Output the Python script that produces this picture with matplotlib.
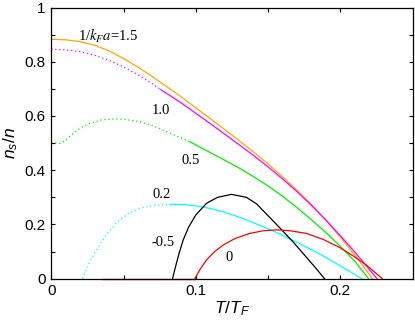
import numpy as np
import matplotlib
matplotlib.use('Agg')
import matplotlib.pyplot as plt
from matplotlib.ticker import MultipleLocator

plt.rcParams['font.family'] = 'Liberation Sans'
plt.rcParams['mathtext.fontset'] = 'custom'
plt.rcParams['mathtext.rm'] = 'Liberation Sans'
plt.rcParams['mathtext.it'] = 'Liberation Sans:italic'

# curves: T/T_F and n_s/n
# 1/kFa = 1.5 (all solid)
t_15 = [0.000, 0.010, 0.020, 0.030, 0.040, 0.050, 0.060, 0.070, 0.080, 0.090, 0.100,
        0.110, 0.120, 0.130, 0.140, 0.150, 0.160, 0.170, 0.180, 0.190, 0.200, 0.210, 0.2221]
n_15 = [0.883, 0.881, 0.874, 0.861, 0.840, 0.812, 0.780, 0.745, 0.708, 0.670, 0.630,
        0.590, 0.550, 0.509, 0.467, 0.423, 0.376, 0.326, 0.273, 0.215, 0.153, 0.087, 0.000]
# 1/kFa = 1.0 (dotted part, then solid)
t_10_dot = [0.000, 0.010, 0.020, 0.030, 0.040, 0.050, 0.060, 0.070, 0.0758]
n_10_dot = [0.846, 0.844, 0.837, 0.824, 0.805, 0.781, 0.752, 0.719, 0.697]
t_10 = [0.0758, 0.090, 0.100, 0.110, 0.120, 0.130, 0.140, 0.150, 0.160, 0.170, 0.180,
        0.190, 0.200, 0.210, 0.2253]
n_10 = [0.697, 0.648, 0.610, 0.572, 0.533, 0.494, 0.454, 0.412, 0.368, 0.321, 0.270,
        0.216, 0.158, 0.098, 0.000]
# 1/kFa = 0.5
t_05_dot = [0.000, 0.006, 0.010, 0.0153, 0.020, 0.0268, 0.035, 0.0429, 0.050, 0.0613, 0.070, 0.0798, 0.0959]
n_05_dot = [0.502, 0.499, 0.510, 0.536, 0.555, 0.573, 0.586, 0.589, 0.588, 0.579, 0.565, 0.542, 0.505]
t_05 = [0.0959, 0.110, 0.120, 0.130, 0.140, 0.150, 0.160, 0.170, 0.180, 0.190, 0.200, 0.210, 0.2195]
n_05 = [0.505, 0.465, 0.437, 0.408, 0.376, 0.342, 0.304, 0.262, 0.217, 0.170, 0.119, 0.064, 0.000]
# 1/kFa = 0.2
t_02_dot = [0.0217, 0.025, 0.030, 0.035, 0.040, 0.045, 0.050, 0.055, 0.060, 0.066, 0.074, 0.082]
n_02_dot = [0.000, 0.045, 0.095, 0.138, 0.175, 0.205, 0.228, 0.245, 0.257, 0.266, 0.272, 0.274]
t_02 = [0.082, 0.090, 0.100, 0.110, 0.120, 0.130, 0.140, 0.150, 0.160, 0.170, 0.180, 0.190, 0.200, 0.2149]
n_02 = [0.274, 0.274, 0.269, 0.259, 0.245, 0.227, 0.206, 0.184, 0.160, 0.134, 0.107, 0.078, 0.047, 0.000]
# 1/kFa = -0.5
t_m05 = [0.0839, 0.086, 0.0885, 0.0913, 0.095, 0.100, 0.1074, 0.115, 0.1247, 0.135, 0.142,
         0.1489, 0.158, 0.1672, 0.175, 0.182, 0.189]
n_m05 = [0.000, 0.045, 0.095, 0.143, 0.190, 0.235, 0.278, 0.300, 0.311, 0.300, 0.276,
         0.238, 0.188, 0.136, 0.088, 0.045, 0.000]
# 1/kFa = 0 (zero part along the axis, then the dome)
t_0_base = [0.035, 0.0993]
n_0_base = [0.000, 0.000]
t_0 = [0.0993, 0.103, 0.1074, 0.113, 0.1189, 0.127, 0.1373, 0.147, 0.1558, 0.165, 0.1765,
       0.188, 0.1995, 0.210, 0.218, 0.229]
n_0 = [0.000, 0.035, 0.069, 0.100, 0.124, 0.148, 0.167, 0.177, 0.180, 0.177, 0.167,
       0.145, 0.115, 0.080, 0.050, 0.000]

x_ticks = [0, 0.1, 0.2]
x_ticklabels = ['0', '0.1', '0.2']
y_ticks = [0, 0.2, 0.4, 0.6, 0.8, 1.0]
y_ticklabels = ['0', '0.2', '0.4', '0.6', '0.8', '1']

fig = plt.figure(figsize=(4.15, 3.21), dpi=100)
ax = fig.add_axes([0.1234, 0.1318, 0.8711, 0.8448])

lw = 0.9
dot = (0, (1, 2.2))
ax.plot(t_15, n_15, color='#ffa500', lw=lw)
ax.plot(t_10_dot, n_10_dot, color='#ff00ff', lw=lw, ls=dot)
ax.plot(t_10, n_10, color='#ff00ff', lw=lw)
ax.plot(t_05_dot, n_05_dot, color='#00ee00', lw=lw, ls=dot)
ax.plot(t_05, n_05, color='#00ee00', lw=lw)
ax.plot(t_02_dot, n_02_dot, color='#00ffff', lw=lw, ls=dot)
ax.plot(t_02, n_02, color='#00ffff', lw=lw)
ax.plot(t_m05, n_m05, color='black', lw=lw)
ax.plot(t_0_base, n_0_base, color='#cc2020', lw=1.0, zorder=1, clip_on=False)
ax.plot(t_0, n_0, color='#ff0000', lw=lw)

tfont = dict(family='Liberation Serif', fontsize=10.5, ha='center', va='center')
ax.text(0.0393, 0.895, r'1/$\mathit{k}_{F}\mathit{a}$=1.5', math_fontfamily='stix', **tfont)
ax.text(0.0759, 0.620, '1.0', **tfont)
ax.text(0.0962, 0.434, '0.5', **tfont)
ax.text(0.0766, 0.309, '0.2', **tfont)
ax.text(0.0772, 0.132, '-0.5', **tfont)
ax.text(0.1230, 0.078, '0', **tfont)

ax.set_xlim(0, 0.25)
ax.set_ylim(0, 1)
ax.set_xticks(x_ticks)
ax.set_xticklabels(x_ticklabels)
ax.set_yticks(y_ticks)
ax.set_yticklabels(y_ticklabels)
ax.xaxis.set_minor_locator(MultipleLocator(0.05))
ax.yaxis.set_minor_locator(MultipleLocator(0.1))
ax.tick_params(which='both', direction='in', top=True, right=True, length=3, width=0.8,
               labelsize=11, pad=4)
for s in ax.spines.values():
    s.set_linewidth(0.9)
    s.set_zorder(3)

ax.set_xlabel(r'$T/T_F$', fontsize=12.5, labelpad=1)
ax.set_ylabel(r'$n_s/n$', fontsize=12.5, labelpad=3)

fig.savefig('out.png', dpi=100)
